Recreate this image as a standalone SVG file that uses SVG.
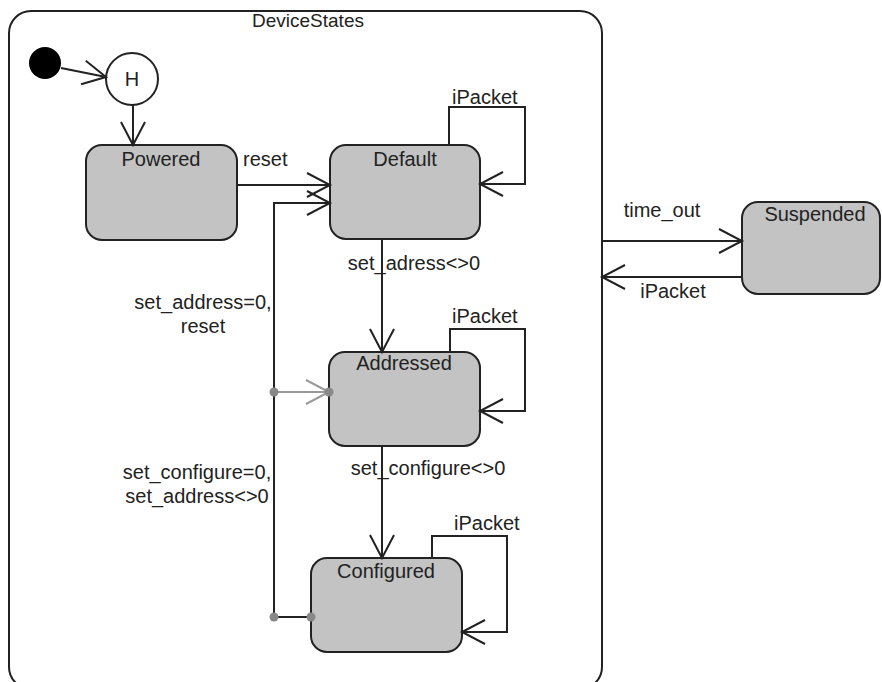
<svg xmlns="http://www.w3.org/2000/svg" width="882" height="682" viewBox="0 0 882 682">
<defs>
<style>
text{font-family:"Liberation Sans",Arial,sans-serif;font-size:20px;fill:#222}
.st{fill:#c3c3c3;stroke:#222;stroke-width:2}
.c{fill:none;stroke:#222;stroke-width:2}
.g{fill:none;stroke:#999;stroke-width:2}
.dot{fill:#888}
.m{text-anchor:middle}
</style>
<marker id="a" viewBox="-26 -15 30 30" refX="0" refY="0" markerWidth="30" markerHeight="30" markerUnits="userSpaceOnUse" orient="auto">
<path d="M-23,-12 L0,0 L-23,12" fill="none" stroke="#222" stroke-width="2"/>
</marker>
<marker id="ag" viewBox="-26 -15 30 30" refX="0" refY="0" markerWidth="30" markerHeight="30" markerUnits="userSpaceOnUse" orient="auto">
<path d="M-23,-12 L0,0 L-23,12" fill="none" stroke="#999" stroke-width="2"/>
</marker>
</defs>
<rect width="882" height="682" fill="#fff"/>
<g id="DeviceStates">
<rect x="9" y="11" width="593" height="678" rx="22" fill="none" stroke="#222" stroke-width="2"/>
<text x="308" y="27" class="m" style="font-size:19px">DeviceStates</text>
</g>
<g id="initial"><circle cx="45" cy="63" r="16" fill="#000"/></g>
<g id="history"><circle cx="132" cy="79" r="26" fill="#fff" stroke="#222" stroke-width="2"/><text x="132" y="86" class="m">H</text></g>
<g id="Powered"><rect class="st" x="86" y="145" width="151" height="95" rx="16"/><text x="161" y="166" class="m">Powered</text></g>
<g id="Default"><rect class="st" x="330" y="145" width="150" height="94" rx="16"/><text x="405" y="166" class="m">Default</text></g>
<g id="Addressed"><rect class="st" x="329" y="352" width="151" height="94" rx="16"/><text x="404" y="370" class="m">Addressed</text></g>
<g id="Configured"><rect class="st" x="311" y="558" width="151" height="94" rx="16"/><text x="386" y="578" class="m">Configured</text></g>
<g id="Suspended"><rect class="st" x="742" y="202" width="138" height="92" rx="16"/><text x="815" y="221" class="m">Suspended</text></g>
<g id="connectors">
<path class="c" d="M61,68 L106,77" marker-end="url(#a)"/>
<path class="c" d="M133,105 L133,145" marker-end="url(#a)"/>
<path class="c" d="M237,185 L330,185" marker-end="url(#a)"/>
<path class="c" d="M274,617 L274,203 L330,203" marker-end="url(#a)"/>
<path class="c" d="M274,617 L311,617"/>
<path class="g" d="M274,392 L329,392" marker-end="url(#ag)"/>
<path class="c" d="M449,145 L449,107 L525,107 L525,184 L480,184" marker-end="url(#a)"/>
<path class="c" d="M382,239 L382,352" marker-end="url(#a)"/>
<path class="c" d="M450,352 L450,329 L525,329 L525,411 L480,411" marker-end="url(#a)"/>
<path class="c" d="M382,446 L382,558" marker-end="url(#a)"/>
<path class="c" d="M432,558 L432,536 L507,536 L507,632 L462,632" marker-end="url(#a)"/>
<path class="c" d="M602,241 L742,241" marker-end="url(#a)"/>
<path class="c" d="M742,277 L602,277" marker-end="url(#a)"/>
<circle class="dot" cx="274" cy="392" r="4.5"/>
<circle class="dot" cx="329" cy="392" r="4.5"/>
<circle class="dot" cx="274" cy="617" r="4.5"/>
<circle class="dot" cx="311" cy="617" r="4.5"/>
<text x="243" y="166">reset</text>
<text x="452" y="104">iPacket</text>
<text x="414" y="270" class="m">set_adress&lt;&gt;0</text>
<text x="452" y="323">iPacket</text>
<text x="203" y="309" class="m">set_address=0,</text>
<text x="203" y="333" class="m">reset</text>
<text x="428" y="475" class="m">set_configure&lt;&gt;0</text>
<text x="197" y="479" class="m">set_configure=0,</text>
<text x="197" y="503" class="m">set_address&lt;&gt;0</text>
<text x="454" y="530">iPacket</text>
<text x="662" y="217" class="m">time_out</text>
<text x="673" y="298" class="m">iPacket</text>
</g>
</svg>
